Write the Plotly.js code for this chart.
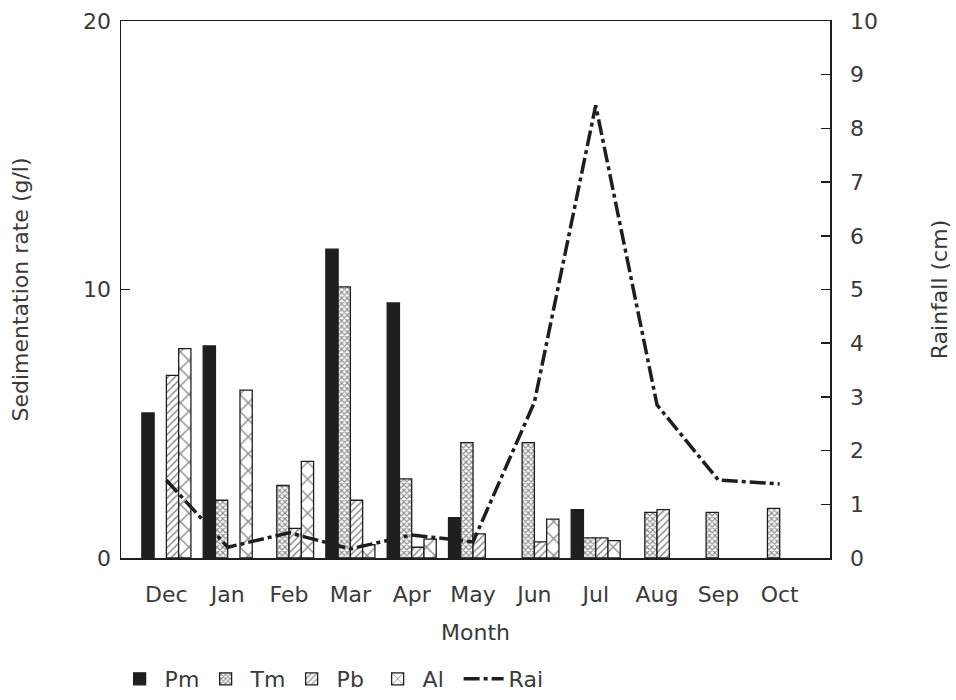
<!DOCTYPE html>
<html>
<head>
<meta charset="utf-8">
<script src="https://cdn.plot.ly/plotly-3.0.1.min.js"></script>
<style>html,body{margin:0;padding:0;background:#fff;}#chart{width:956px;height:700px;}</style>
</head>
<body>
<div id="chart"></div>
<script>
const months = ["Dec","Jan","Feb","Mar","Apr","May","Jun","Jul","Aug","Sep","Oct"];
const pm  = [5.4, 7.9, null, 11.5, 9.5, 1.5, null, 1.8, null, null, null];
const tm  = [null, 2.15, 2.7, 10.1, 2.95, 4.3, 4.3, 0.75, 1.7, 1.7, 1.85];
const pb  = [6.8, null, 1.1, 2.15, 0.4, 0.9, 0.6, 0.75, 1.8, null, null];
const al  = [7.8, 6.25, 3.6, 0.5, 0.7, null, 1.45, 0.65, null, null, null];
const rain = [1.45, 0.2, 0.47, 0.17, 0.43, 0.3, 2.9, 8.43, 2.85, 1.45, 1.38];

const ink = "#1e1e1e";
const txt = "#3a3a3a";
const fontFam = "DejaVu Sans, Liberation Sans, sans-serif";

function barTrace(name, vals, pattern, color) {
  return {
    type: "bar", name: name, x: months, y: vals,
    marker: {
      color: color,
      line: {color: ink, width: 1.3},
      pattern: pattern
    }
  };
}

const traces = [
  barTrace("Pm", pm, {shape: ""}, ink),
  barTrace("Tm", tm, {shape: "x", size: 4, solidity: 0.5, fgcolor: ink, bgcolor: "#fff", fillmode: "overlay"}, "#fff"),
  barTrace("Pb", pb, {shape: "/", size: 5, solidity: 0.3, fgcolor: ink, bgcolor: "#fff", fillmode: "overlay"}, "#fff"),
  barTrace("Al", al, {shape: "x", size: 12, solidity: 0.22, fgcolor: ink, bgcolor: "#fff", fillmode: "overlay"}, "#fff"),
  {
    type: "scatter", mode: "lines", name: "Rai", x: months, y: rain, yaxis: "y2",
    line: {color: ink, width: 3.5, dash: "16px,4px,4px,4px"}
  }
];

const layout = {
  width: 956, height: 700,
  margin: {l: 121, r: 126, t: 21, b: 142},
  paper_bgcolor: "#fff", plot_bgcolor: "#fff",
  font: {family: fontFam, color: txt, size: 22},
  barmode: "group", bargap: 0.2, bargroupgap: 0,
  showlegend: true,
  legend: {
    orientation: "h", x: -0.009, xanchor: "left",
    yref: "container", y: 0, yanchor: "bottom",
    font: {family: fontFam, size: 22, color: txt},
    itemwidth: 40, entrywidth: 31, entrywidthmode: "pixels",
    tracegroupgap: 0, traceorder: "normal"
  },
  xaxis: {
    type: "category", range: [-0.74, 10.82], automargin: false,
    showline: true, linecolor: ink, linewidth: 1.5, mirror: true,
    ticks: "", showgrid: false, zeroline: false,
    ticklabelstandoff: 16,
    tickfont: {size: 22},
    title: {text: "Month", font: {size: 22}, standoff: 18}
  },
  yaxis: {
    range: [0, 20], tickvals: [0, 10, 20], automargin: false,
    showline: true, linecolor: ink, linewidth: 1.5,
    ticks: "inside", ticklen: 9, tickcolor: ink, tickwidth: 1.5,
    showgrid: false, zeroline: false,
    ticklabelstandoff: 4,
    tickfont: {size: 22},
    title: {text: "Sedimentation rate (g/l)", font: {size: 22}, standoff: 48}
  },
  yaxis2: {
    overlaying: "y", side: "right", range: [0, 10], dtick: 1, automargin: false,
    showline: true, linecolor: ink, linewidth: 1.5,
    ticks: "inside", ticklen: 9, tickcolor: ink, tickwidth: 1.5,
    showgrid: false, zeroline: false,
    ticklabelstandoff: 14,
    tickfont: {size: 22},
    title: {text: "Rainfall (cm)", font: {size: 22}, standoff: 54}
  }
};

Plotly.newPlot("chart", traces, layout, {displayModeBar: false, staticPlot: true});
</script>
</body>
</html>
